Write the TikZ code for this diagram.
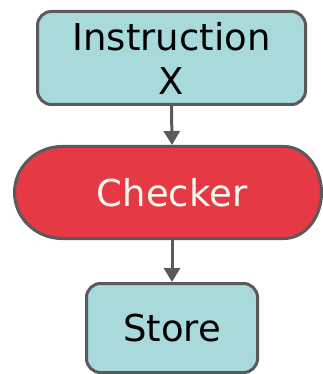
\documentclass[tikz,border=0pt]{standalone}
\usepackage{fontspec}
\setmainfont{DejaVu Sans}
\usetikzlibrary{arrows.meta}
\definecolor{boxfill}{HTML}{A8DADC}
\definecolor{checkfill}{HTML}{E63946}
\definecolor{edge}{HTML}{5A5A5A}
\definecolor{paletext}{HTML}{F1FAEE}
\tikzset{
  stepbox/.style={draw=edge, fill=boxfill, line width=3pt, rounded corners=14pt,
    inner sep=0pt, align=center, text=black,
    font=\fontsize{37}{44}\selectfont},
  stadium/.style={draw=edge, fill=checkfill, line width=3pt},
  checklabel/.style={inner sep=0pt, outer sep=0pt, minimum height=95pt,
    text=paletext, font=\fontsize{37}{44}\selectfont},
  conn/.style={draw=edge, line width=3pt,
    -{Triangle[width=16pt,length=14pt]}}
}
\begin{document}
\begin{tikzpicture}[x=1pt, y=-1pt]
  \useasboundingbox (0,0) rectangle (323,374);

  % input box
  \node[stepbox, minimum width=268pt, minimum height=93pt] (instr)
    at (171.5,58) {Instruction\\X};

  % checker stadium with slightly flatter right end
  \path[stadium] (62,146.5) -- (284,146.5)
    arc[start angle=90, end angle=-90, x radius=37.5pt, y radius=46pt]
    -- (62,238.5)
    arc[start angle=270, end angle=90, x radius=47.5pt, y radius=46pt]
    -- cycle;
  \node[checklabel] (checker) at (172,192.5) {Checker};

  % output box
  \node[stepbox, minimum width=171pt, minimum height=89pt] (store)
    at (172,328) {Store};

  \draw[conn] (instr.south) -- (checker.north);
  \draw[conn] (checker.south) -- (store.north);
\end{tikzpicture}
\end{document}
